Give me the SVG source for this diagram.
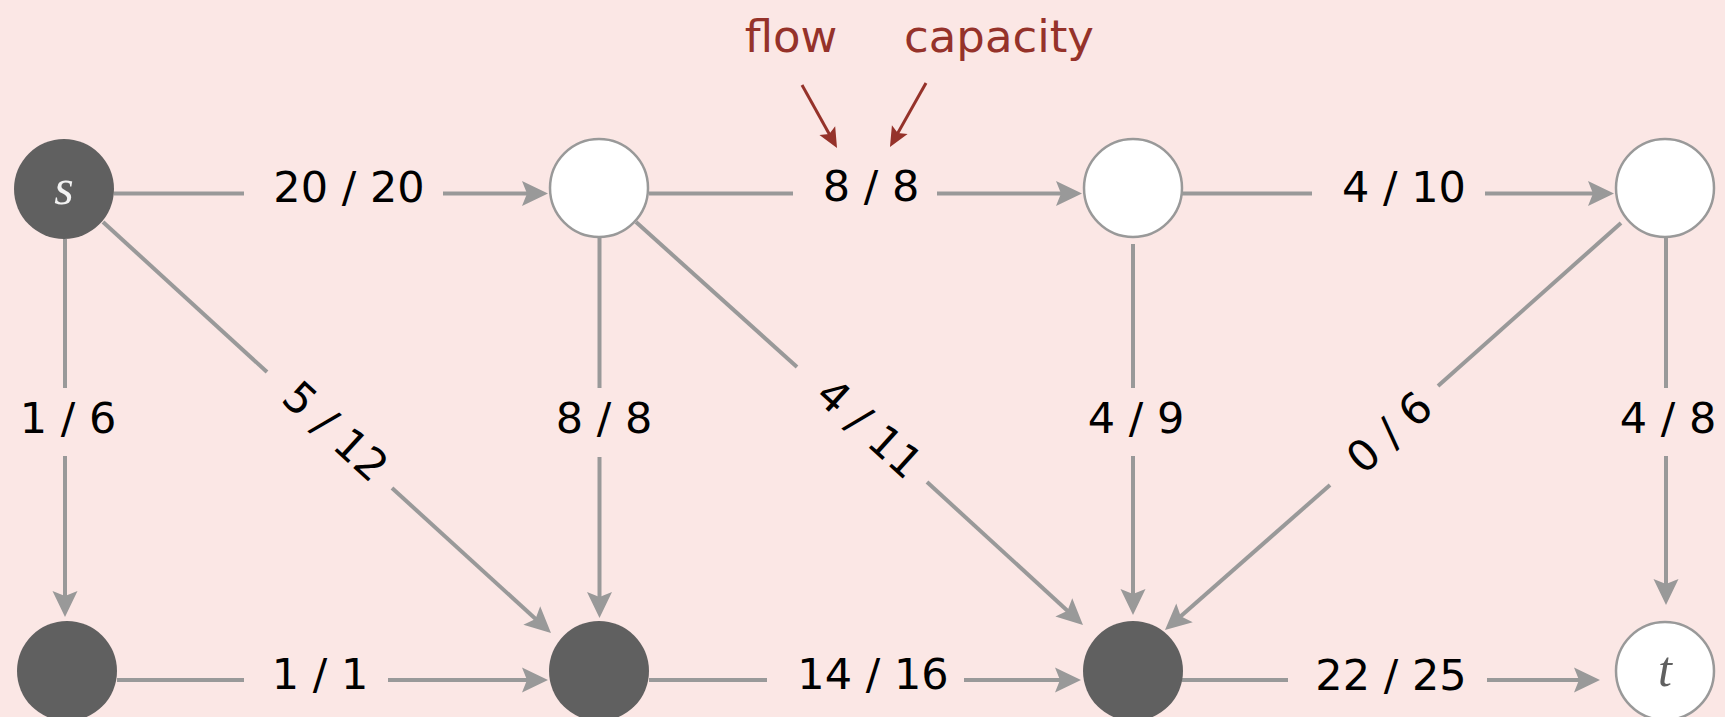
<svg xmlns="http://www.w3.org/2000/svg" width="1725" height="717" viewBox="0 0 1725 717">
<style>
.e{stroke:#999999;stroke-width:4;fill:none}
.ea{stroke:#999999;stroke-width:4;fill:none;marker-end:url(#ah)}
.r{stroke:#95322A;stroke-width:3;fill:none;marker-end:url(#rh)}
.lbl{font-family:"DejaVu Sans","Liberation Sans",sans-serif;font-size:43px;fill:#000;text-anchor:middle}
.red{font-family:"DejaVu Sans","Liberation Sans",sans-serif;font-size:45px;fill:#95322A;text-anchor:middle}
.dark{fill:#606060}
.white{fill:#ffffff;stroke:#999999;stroke-width:2.5}
.nm{font-family:"Liberation Serif","DejaVu Serif",serif;font-style:italic;font-size:50px;text-anchor:middle}
</style>
<defs>
<marker id="ah" markerUnits="userSpaceOnUse" markerWidth="26" markerHeight="25" refX="16" refY="12.5" orient="auto" overflow="visible">
<path d="M0,0 L26,12.5 L0,25 L5,12.5 z" fill="#999999"/>
</marker>
<marker id="rh" markerUnits="userSpaceOnUse" markerWidth="20" markerHeight="18" refX="14" refY="9" orient="auto" overflow="visible">
<path d="M0,0 L20,9 L0,18 L4,9 z" fill="#95322A"/>
</marker>
</defs>
<rect x="0" y="0" width="1725" height="717" fill="#FBE7E5"/>

<g id="connectors">
<!-- s -> v2 -->
<line class="e" x1="114" y1="193.5" x2="244" y2="193.5"/>
<line class="ea" x1="443" y1="193.5" x2="538" y2="193.5"/>
<!-- v2 -> v3 -->
<line class="e" x1="649" y1="193.5" x2="793" y2="193.5"/>
<line class="ea" x1="937" y1="193.5" x2="1072" y2="193.5"/>
<!-- v3 -> v4 -->
<line class="e" x1="1182" y1="193.5" x2="1312" y2="193.5"/>
<line class="ea" x1="1485" y1="193.5" x2="1604" y2="193.5"/>
<!-- s -> b1 -->
<line class="e" x1="65" y1="239" x2="65" y2="388"/>
<line class="ea" x1="65" y1="456" x2="65" y2="607"/>
<!-- v2 -> b2 -->
<line class="e" x1="599.5" y1="237" x2="599.5" y2="388"/>
<line class="ea" x1="599.5" y1="457" x2="599.5" y2="608"/>
<!-- v3 -> b3 -->
<line class="e" x1="1133" y1="244" x2="1133" y2="388"/>
<line class="ea" x1="1133" y1="456" x2="1133" y2="605"/>
<!-- v4 -> t -->
<line class="e" x1="1666" y1="237" x2="1666" y2="388"/>
<line class="ea" x1="1666" y1="456" x2="1666" y2="595"/>
<!-- s -> b2 diagonal -->
<line class="e" x1="103" y1="222" x2="267" y2="372"/>
<line class="ea" x1="392" y1="488" x2="543.6" y2="626.3"/>
<!-- v2 -> b3 diagonal -->
<line class="e" x1="636" y1="222" x2="797" y2="367"/>
<line class="ea" x1="927" y1="482" x2="1075.6" y2="618.2"/>
<!-- v4 -> b3 diagonal -->
<line class="e" x1="1621" y1="223" x2="1438" y2="386"/>
<line class="ea" x1="1330" y1="485" x2="1172.5" y2="623.4"/>
<!-- b1 -> b2 -->
<line class="e" x1="117" y1="680" x2="244" y2="680"/>
<line class="ea" x1="388" y1="680" x2="538" y2="680"/>
<!-- b2 -> b3 -->
<line class="e" x1="649" y1="680" x2="767" y2="680"/>
<line class="ea" x1="964" y1="680" x2="1071" y2="680"/>
<!-- b3 -> t -->
<line class="e" x1="1182" y1="680" x2="1288" y2="680"/>
<line class="ea" x1="1487" y1="680" x2="1590" y2="680"/>
<!-- annotation arrows -->
<line class="r" x1="802" y1="85" x2="834.1" y2="142.8"/>
<line class="r" x1="926" y1="83" x2="892.9" y2="141.8"/>
</g>

<g id="labels">
<text class="lbl" x="349" y="202">20 / 20</text>
<text class="lbl" x="871" y="201">8 / 8</text>
<text class="lbl" x="1404" y="202">4 / 10</text>
<text class="lbl" x="68" y="433">1 / 6</text>
<text class="lbl" x="604" y="433">8 / 8</text>
<text class="lbl" x="1136" y="433">4 / 9</text>
<text class="lbl" x="1668" y="433">4 / 8</text>
<text class="lbl" x="320" y="689">1 / 1</text>
<text class="lbl" x="873" y="689">14 / 16</text>
<text class="lbl" x="1391" y="690">22 / 25</text>
<text class="lbl" transform="translate(336,431) rotate(42.5)" x="0" y="15.5">5 / 12</text>
<text class="lbl" transform="translate(870,428) rotate(42)" x="0" y="15.5">4 / 11</text>
<text class="lbl" transform="translate(1389,432) rotate(-41.8)" x="0" y="15.5">0 / 6</text>
<text class="red" x="791" y="52">flow</text>
<text class="red" x="999" y="52">capacity</text>
</g>

<g id="node-s">
<circle class="dark" cx="64" cy="189" r="50"/>
<text class="nm" x="64" y="204" fill="#F2F2F2">s</text>
</g>
<g id="node-v2">
<circle class="white" cx="599" cy="188" r="49"/>
</g>
<g id="node-v3">
<circle class="white" cx="1133" cy="188" r="49"/>
</g>
<g id="node-v4">
<circle class="white" cx="1665" cy="188" r="49"/>
</g>
<g id="node-b1">
<circle class="dark" cx="67" cy="671" r="50"/>
</g>
<g id="node-b2">
<circle class="dark" cx="599" cy="671" r="50"/>
</g>
<g id="node-b3">
<circle class="dark" cx="1133" cy="671" r="50"/>
</g>
<g id="node-t">
<circle class="white" cx="1665" cy="671" r="49"/>
<text class="nm" x="1665" y="686" fill="#606060">t</text>
</g>
</svg>
